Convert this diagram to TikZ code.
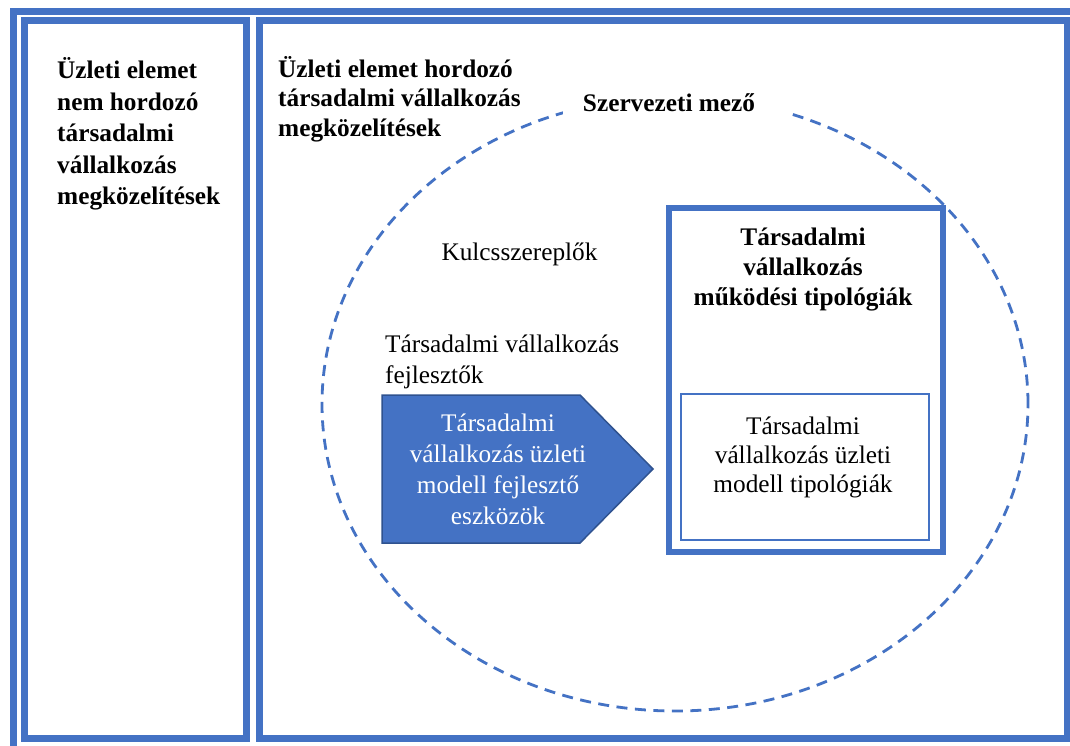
\documentclass[tikz,border=0pt]{standalone}
\usepackage{fontspec}
\setmainfont{Liberation Serif}
\usetikzlibrary{shapes.geometric}
\definecolor{ofblue}{HTML}{4472C4}
\definecolor{ofdark}{HTML}{2F528F}
\begin{document}
\begin{tikzpicture}[x=1pt,y=-1pt,
  framebox/.style={draw=ofblue, line width=7pt, inner sep=0, anchor=north west},
  fieldline/.style={draw=ofblue, line width=2.8pt, dash pattern=on 11pt off 7.5pt},
  txt/.style={inner sep=0, font=\fontsize{25.3}{31}\selectfont},
  btxt/.style={inner sep=0, font=\fontsize{25.3}{31}\selectfont\bfseries}]
\useasboundingbox (0,0) rectangle (1070,746);
\fill[white] (0,0) rectangle (1070,746);
% frames
\node[framebox, line width=6.5pt, minimum width=1063pt, minimum height=738.5pt] (outer) at (10,8.5) {};
\node[framebox, minimum width=222pt, minimum height=718pt] (leftbox) at (20.5,17) {};
\node[framebox, minimum width=808pt, minimum height=718pt] (rightbox) at (256,17) {};
% organisational field
\node[ellipse, fieldline, minimum width=706pt, minimum height=614pt, inner sep=0] (field) at (675,404) {};
\fill[white] (563,84) rectangle (790,124);
\node[btxt] (fieldlab) at (669,103) {Szervezeti mező};
% texts
\node[btxt, anchor=west, align=left, font=\fontsize{25.3}{31.5}\selectfont\bfseries] (lefttxt) at (57,134)
  {Üzleti elemet\\nem hordozó\\társadalmi\\vállalkozás\\megközelítések};
\node[btxt, anchor=west, align=left, font=\fontsize{25.3}{29.5}\selectfont\bfseries] (righthdr) at (278,99)
  {Üzleti elemet hordozó\\társadalmi vállalkozás\\megközelítések};
\node[txt] (key) at (519.5,254) {Kulcsszereplők};
\node[txt, anchor=west, align=left] (dev) at (385,362) {Társadalmi vállalkozás\\fejlesztők};
% arrow shape
\draw[fill=ofblue, draw=ofdark, line width=1.5pt] (382,395) -- (580,395) -- (653,469) -- (580,543) -- (382,543) -- cycle;
\node[txt, text=white, align=center] (tools) at (498,469)
  {Társadalmi\\vállalkozás üzleti\\modell fejlesztő\\eszközök};
% typology boxes
\node[framebox, line width=6pt, minimum width=274pt, minimum height=344pt] (ops) at (666,205) {};
\node[btxt, align=center, font=\fontsize{25.3}{30}\selectfont\bfseries] (opstitle) at (803,270)
  {Társadalmi\\vállalkozás\\működési tipológiák};
\node[framebox, line width=2pt, minimum width=248pt, minimum height=146pt] (bm) at (680,393) {};
\node[txt, align=center, font=\fontsize{25.3}{29}\selectfont] (bmtxt) at (803,457)
  {Társadalmi\\vállalkozás üzleti\\modell tipológiák};
\end{tikzpicture}
\end{document}
